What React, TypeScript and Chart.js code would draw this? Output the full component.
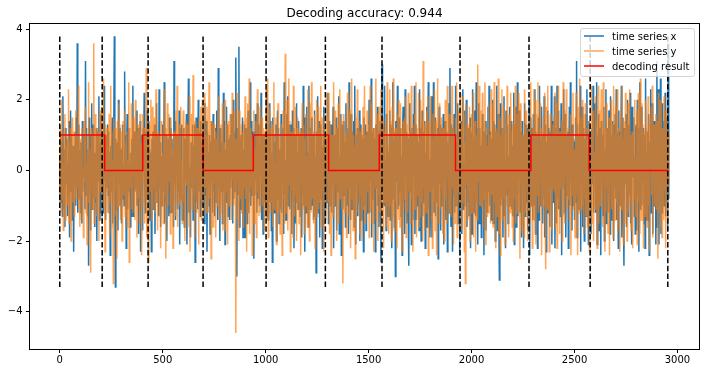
import { useEffect, useRef } from "react";
import { Chart, registerables } from "chart.js";

Chart.register(...registerables);

// ---- data ----
const STEP = 2.5; // time units between consecutive samples below
const TITLE = "Decoding accuracy: 0.944";
const legendLabels = ["time series x", "time series y", "decoding result"];

const seriesX = [
  0.4,-0.9,1.1,-0.2,0.8,-1.3,2.1,0.3,-1.1,0.6,-1.6,1.2,-0.4,0.9,-0.1,-1.3,0.2,-0.7,1.4,-1.9,
  0.5,1.7,-0.6,1.0,-1.4,0.1,0.7,-2.3,0.7,-0.3,1.1,-1.0,1.5,-0.5,3.6,-1.2,0.4,1.3,-0.8,0.6,
  -1.2,0.8,0.3,-1.5,1.4,-0.6,1.0,-0.2,0.9,-1.1,3.1,-0.7,1.2,0.1,-1.3,0.6,-2.7,1.5,-0.4,1.0,
  -1.7,0.7,1.9,-1.1,0.2,1.3,-0.8,0.5,-1.6,0.4,-0.9,1.2,-2.0,0.5,1.1,-0.3,2.1,-1.4,0.8,-1.2,
  1.6,-0.9,0.4,1.1,-1.2,0.6,2.4,-0.3,0.9,-1.4,1.0,-0.5,0.2,1.3,-0.7,1.1,-1.2,0.5,-2.4,0.7,
  -0.6,0.8,1.5,-1.5,0.3,1.4,3.8,-0.8,-3.3,0.9,-1.1,0.8,0.1,-1.7,2.0,-0.4,1.2,-1.0,0.6,-0.9,
  -1.5,0.6,1.3,-0.8,0.2,-1.0,2.8,-0.4,1.0,-2.2,0.7,1.6,-1.1,0.3,1.2,-0.6,0.2,-1.6,0.5,-1.3,
  0.9,-0.3,2.4,-1.3,0.4,1.1,-0.6,0.8,-0.5,1.7,-1.0,0.1,1.2,-1.8,0.6,-0.9,1.4,-2.3,1.0,-0.2,
  0.8,-1.7,1.2,0.3,2.2,-0.4,-1.2,1.1,-0.8,0.5,1.7,-0.8,0.2,1.4,-1.4,0.6,-0.1,0.5,-2.3,0.9,
  -0.2,1.1,-1.1,0.4,1.3,-1.8,0.7,-0.6,1.9,-0.9,0.3,1.0,-1.3,2.3,-0.5,0.8,-1.6,0.4,0.1,-1.0,
  1.3,-0.6,0.7,2.5,-1.5,0.2,-0.9,1.0,-2.0,0.9,-0.3,0.6,-1.3,1.5,0.1,-1.2,1.2,-0.7,0.9,-1.2,
  0.4,-1.6,3.1,-0.4,1.4,-1.4,0.8,0.2,1.0,-1.1,0.5,-0.6,1.7,-2.1,0.3,1.2,-0.8,1.3,-1.4,-0.7,
  -0.8,1.2,-1.6,0.4,0.9,-0.3,1.6,-2.1,0.4,1.2,2.6,-1.2,0.1,-0.7,-1.9,0.8,-0.5,0.6,1.3,-1.4,
  0.7,-0.2,1.3,-2.6,0.6,1.5,-0.9,0.3,-1.1,2.0,-0.6,1.1,0.2,-1.3,1.4,-0.4,0.8,-1.0,1.0,1.5,
  0.3,-1.5,1.9,-0.7,0.5,1.4,-2.3,1.1,-0.2,0.5,-1.0,1.0,-1.8,0.8,-0.3,1.4,0.1,-1.2,1.6,-0.6,
  0.9,-1.3,0.4,1.2,-0.9,1.7,-0.1,-1.4,2.9,-0.5,0.4,-2.0,1.2,0.2,-0.6,0.8,-1.5,0.7,2.2,-0.6,
  1.4,-2.1,0.6,-0.4,1.8,-0.9,1.3,-1.3,0.2,0.9,-1.4,1.0,-0.5,1.6,-0.2,0.7,-1.5,2.0,-0.8,0.4,
  1.1,-0.6,3.2,0.3,-3.0,1.2,-0.7,0.5,3.5,-1.6,0.9,-0.3,1.0,-1.1,0.4,1.5,-1.9,0.6,-0.4,1.3,
  -1.9,1.2,-0.4,1.2,-1.5,0.6,1.7,-1.2,0.3,-0.6,2.5,-1.0,-0.2,1.4,-0.7,0.8,1.1,-2.5,0.5,-0.7,
  1.6,-0.3,0.9,-1.2,1.9,-0.8,0.4,1.3,-1.0,0.7,-0.1,2.2,-1.4,0.6,1.0,-1.8,0.3,1.0,-0.9,0.5,
  0.9,-1.3,2.3,-0.6,1.1,-1.4,0.7,1.9,-0.9,0.2,1.4,-1.7,0.5,-2.6,1.5,-0.3,1.0,-1.2,0.8,-0.5,
  1.3,-2.0,0.4,1.7,-0.8,1.2,-1.5,0.6,0.0,-1.1,1.6,-1.2,0.9,-0.4,1.2,-1.8,2.5,-0.7,0.3,-1.4,
  -1.4,1.6,-0.2,2.1,-1.0,0.9,1.3,-1.1,1.3,-0.6,0.4,-1.8,1.7,-0.8,1.2,-2.2,0.6,1.0,-1.5,0.3,
  1.9,-0.9,0.5,-1.1,1.4,-0.3,1.0,-1.3,0.7,1.2,-1.9,0.2,-0.7,2.4,-1.0,0.8,-2.3,1.5,0.1,-1.2,
  1.8,-0.7,0.5,-1.6,2.4,-0.3,1.2,-1.1,0.8,1.5,0.2,-1.0,1.0,-1.4,0.9,1.7,-1.3,0.4,-2.9,1.1,
  -0.5,2.1,-1.2,0.6,1.4,-1.9,0.3,1.3,-0.8,1.0,-2.2,0.7,-0.2,1.8,-1.5,0.5,1.0,-1.1,0.9,-0.6,
  -0.9,2.2,-1.5,0.7,1.4,-1.0,0.3,1.3,-1.2,0.9,-0.4,1.8,-2.2,0.6,1.0,-1.0,0.1,1.5,-1.7,0.5,
  1.2,-0.6,2.1,-1.8,0.4,-0.2,1.6,-2.4,0.9,1.3,-1.1,0.2,1.4,-0.7,0.8,-1.6,1.9,-0.3,-1.0,1.0,
  1.2,-1.8,2.5,-0.5,0.8,-1.4,1.6,0.1,-1.1,1.1,-0.7,1.4,-1.6,2.4,0.3,-2.1,1.0,-0.2,1.2,-1.3,
  0.6,-0.9,1.7,-2.0,0.4,1.3,-1.4,1.0,-0.5,0.9,-2.3,1.5,0.2,-1.0,1.3,-1.7,0.7,1.1,-0.8,-1.2,
  0.6,2.0,-1.2,1.5,-0.3,2.6,-1.9,0.4,1.1,-0.8,1.2,-1.5,0.9,-2.3,1.3,-0.5,0.2,1.8,-1.0,1.1,
  -1.6,0.7,1.4,-0.4,-2.6,1.1,3.0,-0.6,1.3,-1.0,0.8,2.4,-1.0,0.3,-1.7,1.6,-0.2,1.0,-1.3,0.5,
  -0.5,1.7,-1.4,1.3,0.2,-2.2,1.2,2.5,-0.8,0.9,-1.6,1.1,-3.0,1.4,-0.3,0.6,2.4,-1.1,0.8,-1.0,
  1.5,-0.6,1.2,-1.3,0.4,-2.4,1.0,1.8,-0.9,0.3,-1.8,2.3,-0.2,1.1,-1.5,0.7,1.0,-1.2,-2.7,0.9,
  1.9,-0.6,1.1,-2.1,1.2,0.3,-1.4,1.6,-0.2,2.4,-1.8,0.7,1.3,-1.4,0.5,1.0,-1.0,0.8,-1.7,2.3,
  -0.8,1.2,-2.0,0.6,1.7,-1.3,0.2,1.1,-0.9,1.4,-2.2,0.5,-0.4,1.8,-1.6,0.9,2.5,-1.1,0.3,-1.9,
  -1.2,0.4,2.1,-1.9,1.0,-0.5,2.5,-1.2,0.9,1.5,-1.3,0.2,1.0,-0.9,1.2,-2.5,0.6,1.8,-0.4,1.3,
  -1.7,0.7,1.2,-1.0,0.3,1.6,-2.1,0.9,-0.3,1.4,-1.4,0.5,1.1,-2.3,0.8,-0.6,1.9,-1.2,2.9,-0.8,
  -1.6,1.3,0.5,-2.3,1.2,-0.7,1.6,-1.2,0.3,2.4,-1.0,0.8,-0.3,1.9,-1.5,0.6,1.1,-2.4,1.0,-0.1,
  1.4,-1.8,0.6,2.3,-1.1,0.2,-1.0,1.7,-0.5,1.1,2.0,-1.6,0.4,-0.9,1.2,-1.3,0.7,1.5,-2.2,0.3,
  1.1,-1.8,2.3,-0.4,0.9,-1.2,1.7,0.1,-1.3,2.5,-0.9,1.2,-2.1,0.6,1.9,-1.5,1.2,-0.2,0.7,-1.9,
  0.4,1.6,-1.0,1.1,-2.4,0.8,-0.3,1.4,-1.7,1.0,0.2,-1.2,1.8,-0.6,2.4,-1.0,0.5,1.1,-1.4,0.9,
  0.5,2.0,-1.5,1.4,-0.6,1.3,-2.0,1.1,-0.4,2.4,-1.7,0.8,1.6,-1.3,-3.1,0.2,1.9,-1.0,1.2,-0.8,
  1.2,-1.9,0.6,2.1,-1.3,0.3,-2.2,1.7,-0.7,1.0,1.3,-1.5,0.4,-0.1,1.8,-1.0,0.9,1.4,-1.1,0.5,
  -1.3,0.7,2.2,-2.1,1.3,-0.5,1.8,-1.6,0.4,2.5,-1.3,0.9,-0.2,1.7,-1.2,1.1,0.3,-1.9,1.4,-0.7,
  1.0,-2.2,0.5,1.9,-1.3,0.2,1.3,-0.9,1.2,-1.7,0.6,-0.3,2.0,-2.4,0.8,1.5,-1.0,0.4,1.2,-1.4,
  1.6,-1.0,0.3,2.3,-1.8,1.1,-0.3,1.0,-2.2,0.7,1.5,-1.4,2.4,-0.6,0.9,-1.0,1.8,0.2,-1.5,1.0,
  -0.8,2.1,-1.9,0.5,1.3,-2.3,0.8,-0.2,1.7,-1.2,1.2,0.0,-1.6,1.1,-0.5,2.4,-2.1,0.6,1.4,-0.9,
  -0.6,2.1,-2.2,1.2,0.5,-1.5,2.4,-0.8,1.7,-1.1,0.6,1.2,-1.3,0.1,1.9,-2.4,0.9,1.4,-0.5,2.3,
  -1.2,0.8,1.6,-1.9,0.3,1.0,-0.7,1.1,-2.2,0.5,1.8,-1.0,2.5,-0.3,0.7,-1.7,1.3,-1.0,0.9,0.2,
  -1.4,0.8,1.5,-0.9,3.1,-1.9,1.3,-0.4,1.0,-1.1,0.6,2.4,-2.3,1.0,-0.2,1.8,-1.6,0.4,1.2,-2.0,
  0.9,-0.5,1.6,-1.3,2.3,-0.7,0.2,-2.1,1.4,0.6,-1.0,1.1,-1.8,0.8,1.2,-0.4,2.4,-1.2,0.5,1.0,
  1.9,-1.2,0.5,2.5,-2.1,1.0,-0.6,1.6,-1.7,1.2,0.3,-2.4,1.4,-0.3,1.0,-1.3,0.7,1.8,-2.0,0.6,
  -0.9,2.3,-1.5,0.4,1.2,-1.2,0.8,1.7,-0.4,-1.8,2.1,-0.7,1.0,-1.4,1.4,0.2,-2.0,1.3,-0.5,1.6,
  -0.8,2.3,-1.4,1.1,0.4,-2.2,1.7,-0.5,1.1,-1.0,0.8,2.4,-1.9,0.2,1.5,-1.2,-2.7,1.2,-0.4,1.0,
  1.6,-1.6,0.5,2.0,-1.3,0.9,1.3,-0.7,2.2,-1.5,0.3,-2.1,1.8,-0.2,0.7,1.5,-1.3,0.4,-1.8,1.2,
  1.3,-1.7,2.0,-0.7,1.2,-2.3,0.6,2.5,-1.1,0.2,1.8,-1.0,0.9,-0.3,1.2,-1.5,1.0,-2.2,2.6,-0.6,
  0.5,-1.4,1.1,-0.9,1.6,-2.4,0.8,0.1,2.3,-1.2,-0.5,1.9,-1.8,0.7,1.4,-1.0,0.3,1.4,-2.1,0.9,
  3.1,-1.6,0.7,2.3,-2.1,1.1,-0.4,2.6,-1.8,0.9,-1.2,1.9,-0.6,1.4,-1.0,0.5,2.2,-1.3,0.8,-0.9,
  1.5,-1.7,3.6,-0.8,
];

const seriesY = [
  -0.6,1.3,-1.2,0.5,2.0,-0.8,0.2,-1.7,1.1,-0.3,1.6,-1.4,0.7,-0.1,1.0,-1.0,0.4,2.3,-1.5,0.8,
  -0.4,1.2,-2.0,0.6,1.5,-0.9,0.1,1.1,-1.3,0.9,-0.6,1.7,-0.8,0.3,1.0,-0.5,2.4,-1.1,0.2,-1.6,
  0.9,-1.4,0.5,1.2,-0.7,0.1,-1.9,1.4,-0.3,0.8,1.8,-1.2,0.2,-2.1,1.0,-0.5,2.5,-0.9,0.6,-1.6,
  -2.9,1.2,-0.4,0.7,-1.1,1.0,3.6,-1.5,0.3,1.6,-0.8,1.2,-1.3,0.4,-0.2,1.1,-2.0,0.9,1.7,-0.6,
  -0.4,1.8,-1.5,0.7,0.2,2.6,-1.0,0.4,-2.3,1.3,-0.6,1.0,1.2,-1.2,0.5,-0.2,1.6,-1.9,0.8,2.4,
  -0.9,1.1,-1.6,0.3,-3.2,1.5,0.6,-1.3,1.2,-0.5,0.9,-2.5,1.4,0.0,-1.0,1.9,-0.7,1.3,-1.4,0.6,
  1.1,-2.0,0.5,1.4,-0.7,0.2,1.7,-1.3,0.8,-0.4,1.1,-1.6,0.3,-0.9,2.5,-2.6,0.6,1.2,-0.5,1.9,
  -1.1,0.4,-1.2,1.5,0.0,0.9,-1.4,2.0,-0.6,1.1,-1.9,0.7,1.3,-0.8,0.2,-1.5,1.6,-0.3,0.8,-2.4,
  -1.0,1.6,-0.3,0.9,1.2,-1.5,0.4,-0.8,2.9,-1.9,0.7,1.2,-2.6,0.3,1.3,-0.6,0.1,2.0,-1.4,0.5,
  1.8,-1.1,0.9,-0.5,1.5,-1.2,0.2,2.3,-0.9,0.6,-1.7,1.1,-0.2,1.0,-1.3,0.8,-2.2,1.4,0.3,-1.0,
  0.5,-1.5,1.0,2.3,-0.7,1.2,-2.5,0.4,-0.2,1.9,-1.0,0.8,1.6,-0.3,0.9,-1.8,1.5,0.2,-1.1,0.6,
  -2.2,1.1,-0.6,1.1,0.0,-1.3,1.7,-0.8,2.4,-1.6,0.7,-0.4,1.3,-1.0,0.5,1.8,-0.9,0.3,-1.5,1.0,
  1.7,-0.9,0.6,-2.0,1.2,1.4,-0.4,0.3,1.3,-1.6,0.8,-0.1,2.1,-2.3,0.3,1.0,1.6,-1.1,0.4,2.7,
  -0.7,0.2,-1.9,1.4,-0.2,0.9,-1.2,1.2,-0.5,0.6,-2.1,1.5,0.1,-0.8,1.8,-1.4,0.5,2.0,-1.0,-0.2,
  -1.3,2.2,-0.5,0.6,1.0,-1.2,1.8,0.3,-0.7,-1.2,2.5,-0.8,0.7,1.4,-2.5,0.4,1.4,0.0,-1.6,0.9,
  1.3,-0.4,1.1,-1.9,0.2,0.9,-1.0,1.7,-0.3,2.1,-1.4,0.5,-1.2,1.3,0.6,-0.9,1.9,-1.7,0.8,-0.1,
  0.8,-1.7,2.0,-0.6,0.3,1.3,-2.1,0.5,1.4,-1.0,0.2,1.6,-0.8,0.9,-1.4,2.2,-0.3,1.0,-1.0,1.7,
  -0.8,0.4,-4.6,0.9,-1.4,2.2,-0.3,1.1,-2.0,1.7,-0.8,0.5,1.3,-1.2,1.1,0.0,-1.6,0.8,1.4,-0.5,
  2.1,-0.8,1.5,-2.3,0.4,1.9,-1.2,0.7,2.6,-1.8,0.3,1.2,-0.5,1.0,-2.4,0.9,-0.1,1.7,-1.5,0.6,
  -0.9,1.4,-1.9,0.2,2.3,-0.6,1.0,-1.3,0.5,1.8,-1.2,0.8,-0.4,1.5,-1.0,1.2,0.1,-1.7,1.1,-0.3,
  -0.7,2.3,-1.4,0.6,2.6,-1.9,1.1,-0.2,1.8,-1.2,0.4,1.2,-0.9,1.3,-1.6,0.7,2.5,-1.1,0.2,-0.6,
  1.5,-2.1,0.8,-0.3,1.9,-1.2,0.5,1.0,-1.8,0.9,-0.5,1.3,-2.4,0.6,1.7,-0.8,0.2,-1.5,3.3,-0.4,
  -1.2,0.8,2.0,-1.7,0.5,2.6,-0.4,1.4,-2.3,0.9,1.1,-0.6,1.0,-1.9,2.4,0.3,-1.3,1.8,-0.7,1.2,
  -2.0,0.6,1.5,-0.9,1.2,-1.5,0.2,1.1,-2.4,0.8,-0.1,1.9,-1.1,0.5,1.3,-1.8,0.9,-0.4,1.6,-1.0,
  0.4,-1.6,2.3,-0.5,1.1,-2.0,1.9,0.2,-1.2,2.5,-0.8,0.6,1.1,-1.5,0.0,1.6,-2.2,0.9,-0.3,2.0,
  -1.3,0.7,1.8,-1.1,0.4,1.2,-0.9,2.4,-1.6,0.3,1.5,-0.6,1.0,-2.3,0.8,-0.2,1.3,-1.4,2.2,0.1,
  1.5,-0.9,0.7,2.2,-1.8,0.4,1.3,-2.4,1.0,-0.6,1.0,-1.3,2.5,0.3,-1.0,1.7,-0.4,1.2,-2.0,0.6,
  -0.3,1.9,-1.5,0.8,2.3,-0.8,0.1,1.4,-1.1,0.9,-3.2,1.6,-0.5,1.0,-1.2,0.5,1.1,-1.9,0.3,2.2,
  -0.5,2.2,-1.3,0.9,1.7,-2.2,0.2,2.6,-0.8,1.1,-1.7,1.0,-0.2,0.7,-2.5,1.5,0.5,-1.2,2.3,-0.9,
  1.4,-0.4,0.9,-1.8,1.1,-0.7,1.2,-2.0,0.3,1.8,-1.1,0.6,2.4,-1.5,0.0,1.0,-1.2,1.7,-0.6,0.8,
  1.3,-1.9,0.5,2.4,-1.1,0.8,1.9,-1.5,0.2,1.2,-2.3,0.7,1.2,-0.5,2.6,-1.4,0.3,1.6,-2.0,0.9,
  -0.7,1.8,-1.2,0.4,2.3,-1.7,1.0,-0.3,1.5,-2.2,0.6,1.1,-0.9,1.3,-1.6,0.2,2.5,-1.0,0.7,-1.8,
  -0.6,2.3,-1.0,1.4,-2.0,0.5,1.8,-1.3,2.6,0.1,-1.7,1.0,1.2,-0.9,0.4,-2.2,1.6,-0.3,2.0,-1.4,
  0.8,-1.6,1.9,-0.5,1.2,-2.3,0.6,1.4,-1.1,0.3,1.5,-0.8,2.1,-1.9,0.0,1.3,-1.2,2.2,-0.6,1.0,
  1.1,-1.5,0.7,2.4,-0.8,1.3,-2.3,0.4,1.0,-1.1,1.6,-0.2,2.5,-1.9,0.6,1.2,-0.7,2.2,-1.6,0.9,
  -1.3,2.0,0.3,-0.9,1.5,-2.0,3.1,-0.5,1.0,-1.7,1.3,0.2,-1.2,1.7,-0.4,2.1,-2.4,0.8,1.4,-0.6,
  0.3,2.1,-1.4,0.9,-2.2,1.6,0.5,-0.9,2.3,-1.7,0.8,1.4,-2.4,0.2,2.6,-1.0,1.0,-1.5,1.9,0.6,
  -1.1,1.5,-0.5,1.2,-1.8,0.7,1.2,-2.0,0.4,2.0,-0.8,1.3,-1.5,2.4,-0.2,0.9,-1.2,1.6,0.1,-1.3,
  -1.2,0.7,2.4,-0.5,1.2,-2.1,0.4,1.0,-1.5,1.5,-0.3,2.5,-1.9,0.9,-0.6,1.7,0.2,-1.0,2.2,-0.6,
  1.3,-1.7,0.5,2.1,-0.9,1.6,-2.3,0.8,-3.2,1.9,-0.4,1.0,1.3,-1.4,0.3,-0.8,1.8,-2.0,0.6,1.2,
  1.6,-1.2,0.3,2.2,-1.9,0.8,-0.7,1.4,-2.3,0.5,1.0,-1.4,3.0,-0.3,1.1,2.4,-1.0,0.6,1.7,-1.0,
  -0.5,2.2,-1.6,0.9,1.4,-0.8,2.5,-2.1,0.3,1.2,-1.3,0.7,-0.2,1.9,-1.2,1.0,0.4,-1.5,2.3,-0.7,
  -0.4,1.9,-1.6,0.7,2.5,-0.9,1.2,-2.2,0.4,1.1,-1.3,0.9,2.6,-1.8,0.1,1.5,-2.4,1.0,-0.6,2.3,
  -1.4,0.6,1.8,-0.8,1.0,-2.1,0.3,1.3,-1.0,2.4,-0.5,0.8,-1.9,1.6,0.0,-1.2,2.2,-0.7,1.1,-1.6,
  1.3,-2.0,0.6,1.8,-0.8,2.4,-1.5,0.2,1.6,-1.2,0.9,2.2,-1.1,0.5,-2.5,1.9,-0.4,1.2,-1.7,1.0,
  -0.6,1.0,-1.9,2.3,0.1,-1.2,1.7,-0.3,0.9,-2.0,1.1,-0.8,1.4,-1.5,0.4,2.5,-1.0,0.6,-2.2,1.2,
  -0.9,2.3,-1.4,0.8,2.0,-2.1,0.4,1.6,-0.7,2.5,-1.2,0.6,-1.0,1.9,-0.3,1.2,-2.4,1.1,0.5,-1.0,
  1.5,-0.6,2.2,-1.3,-2.8,1.8,0.2,-1.1,2.4,-0.4,1.0,-2.3,0.7,1.6,-0.9,1.0,-1.7,0.3,1.3,-0.5,
  1.5,-0.6,2.2,-1.6,0.7,1.9,-2.2,0.3,2.4,-1.0,1.1,-1.8,0.6,1.1,-0.5,1.4,-2.0,0.8,2.5,-1.3,
  0.4,-1.5,1.7,-0.2,2.3,-1.1,0.9,1.2,-0.8,1.0,-1.4,0.5,1.6,-2.4,0.1,1.0,-0.7,2.2,-1.1,0.6,
  0.2,-1.9,1.3,2.2,-0.7,1.0,-2.4,1.8,0.4,-1.2,2.6,-0.5,1.5,-1.1,0.8,2.0,-1.0,0.3,-1.8,1.6,
  -0.8,1.9,-1.3,0.6,1.2,-1.6,0.9,-0.2,1.4,-2.3,0.7,1.1,-0.9,2.4,-1.5,0.3,1.7,-2.0,0.5,-0.6,
  -1.1,2.1,-0.4,1.4,-2.2,0.9,2.4,-1.5,0.6,1.7,-1.0,1.0,2.3,-0.8,0.3,-1.6,2.5,-0.2,1.2,-2.3,
  0.7,-1.2,1.9,-0.5,1.2,-1.8,0.4,1.5,-2.4,0.9,-0.3,2.0,-1.1,0.6,1.3,-1.9,2.4,-0.7,1.0,-1.4,
  1.8,-0.9,0.5,2.3,-1.7,1.2,-0.2,1.0,-2.3,0.7,1.6,-1.1,2.4,-0.6,0.9,-2.1,1.4,0.3,-1.5,2.2,
  -0.4,1.3,-2.0,0.8,1.9,-1.2,0.5,2.3,-0.9,1.0,-1.7,0.2,1.1,-2.2,0.6,1.5,-0.8,2.0,-1.3,0.4,
  -0.3,1.7,-2.1,0.8,2.2,-0.9,1.3,-1.8,2.6,0.1,-1.4,1.9,-0.6,1.3,-2.2,0.5,1.1,-1.3,2.0,-0.8,
  1.2,-1.6,0.4,2.1,-1.0,0.7,-2.3,1.5,0.2,1.8,-0.7,2.4,-1.9,0.6,-0.2,1.3,-1.0,0.9,1.6,-1.1,
  1.4,-0.7,-2.5,2.2,-1.2,1.5,-0.5,2.0,-1.6,0.8,-1.9,1.2,0.3,-1.4,2.1,-0.6,1.0,-2.2,1.7,-0.3,
  0.6,-1.5,1.1,-0.4,
];

const changePoints = [0, 206, 429, 696, 1002, 1290, 1565, 1944, 2279, 2576, 2953];
const decodeStarts = [0, 218, 403, 696, 940, 1306, 1552, 1922, 2288, 2571];
const decodeStates = [1, 0, 1, 0, 1, 0, 1, 0, 1, 0];

const xTicks = [0, 500, 1000, 1500, 2000, 2500, 3000];
const yTicks = [-4, -2, 0, 2, 4];
const xRange = [-147, 3107];
const yRange = [-5.07, 4.16];

// ---- styles ----
const BLUE = "#1f77b4";
const ORANGE = "rgba(255,127,14,0.7)";
const RED = "#ff0000";
const FONT = '"DejaVu Sans", sans-serif';

const framePlugin = {
  id: "frame",
  afterDraw(chart: any) {
    const { ctx, chartArea: a } = chart;
    ctx.save();
    ctx.strokeStyle = "#000";
    ctx.lineWidth = 1;
    ctx.strokeRect(a.left, a.top, a.right - a.left, a.bottom - a.top);
    ctx.fillStyle = "#000";
    ctx.font = `12px ${FONT}`;
    ctx.textAlign = "center";
    ctx.textBaseline = "alphabetic";
    ctx.fillText(TITLE, (a.left + a.right) / 2, 16.5);
    ctx.restore();
  },
};

const legendPlugin = {
  id: "mplLegend",
  afterDraw(chart: any) {
    const { ctx } = chart;
    const colors = [BLUE, ORANGE, RED];
    const x0 = 580.5, y0 = 28.5, w = 114, h = 48, r = 2.5;
    ctx.save();
    ctx.beginPath();
    ctx.moveTo(x0 + r, y0);
    ctx.lineTo(x0 + w - r, y0);
    ctx.arcTo(x0 + w, y0, x0 + w, y0 + r, r);
    ctx.lineTo(x0 + w, y0 + h - r);
    ctx.arcTo(x0 + w, y0 + h, x0 + w - r, y0 + h, r);
    ctx.lineTo(x0 + r, y0 + h);
    ctx.arcTo(x0, y0 + h, x0, y0 + h - r, r);
    ctx.lineTo(x0, y0 + r);
    ctx.arcTo(x0, y0, x0 + r, y0, r);
    ctx.closePath();
    ctx.fillStyle = "rgba(255,255,255,0.8)";
    ctx.fill();
    ctx.strokeStyle = "rgba(204,204,204,0.8)";
    ctx.lineWidth = 1;
    ctx.stroke();
    ctx.font = `10px ${FONT}`;
    ctx.textAlign = "left";
    ctx.textBaseline = "alphabetic";
    legendLabels.forEach((label, i) => {
      const base = 39.5 + i * 15;
      ctx.beginPath();
      ctx.strokeStyle = colors[i];
      ctx.lineWidth = 1.5;
      ctx.moveTo(584, base - 3.5);
      ctx.lineTo(604, base - 3.5);
      ctx.stroke();
      ctx.fillStyle = "#000";
      ctx.fillText(label, 612, base);
    });
    ctx.restore();
  },
};

export default function App() {
  const ref = useRef<HTMLCanvasElement | null>(null);

  useEffect(() => {
    document.body.style.margin = "0";
    const xPts = seriesX.map((v, i) => ({ x: i * STEP, y: v }));
    const yPts = seriesY.map((v, i) => ({ x: i * STEP, y: v }));
    const decodeEnd = (seriesX.length - 1) * STEP;
    const decPts: { x: number; y: number }[] = [];
    decodeStarts.forEach((s, i) => {
      const e = i + 1 < decodeStarts.length ? decodeStarts[i + 1] : decodeEnd;
      decPts.push({ x: s, y: decodeStates[i] });
      decPts.push({ x: e, y: decodeStates[i] });
    });
    const vMin = Math.min(...seriesX);
    const vMax = Math.max(...seriesX);
    const vPts: { x: number; y: number | null }[] = [];
    changePoints.forEach((c) => {
      vPts.push({ x: c, y: vMin });
      vPts.push({ x: c, y: vMax });
      vPts.push({ x: c, y: null });
    });

    const common = { pointRadius: 0, pointHoverRadius: 0, tension: 0, fill: false, borderWidth: 1.5 };
    const chart = new Chart(ref.current as HTMLCanvasElement, {
      type: "line",
      data: {
        datasets: [
          { ...common, label: "dash", data: vPts as any, borderColor: "#000", borderDash: [5.5, 2.4], spanGaps: false, order: 0 },
          { ...common, label: legendLabels[2], data: decPts, borderColor: RED, order: 1 },
          { ...common, label: legendLabels[1], data: yPts, borderColor: ORANGE, order: 2 },
          { ...common, label: legendLabels[0], data: xPts, borderColor: BLUE, order: 3 },
        ],
      },
      options: {
        animation: false,
        responsive: false,
        devicePixelRatio: 1,
        events: [],
        layout: { padding: { top: 23.5, right: 5.5, left: 0, bottom: 0 } },
        plugins: { legend: { display: false }, title: { display: false }, tooltip: { enabled: false } },
        scales: {
          x: {
            type: "linear",
            min: xRange[0],
            max: xRange[1],
            afterBuildTicks: (s: any) => { s.ticks = xTicks.map((v) => ({ value: v })); },
            afterFit: (s: any) => { s.height = 23.5; },
            grid: { display: true, drawOnChartArea: false, drawTicks: true, tickLength: 3.5, color: "#000", lineWidth: 1 },
            border: { display: false },
            ticks: { autoSkip: false, maxRotation: 0, padding: 1.5, color: "#000", font: { family: FONT, size: 10 }, callback: (v: any) => String(v) },
          },
          y: {
            type: "linear",
            min: yRange[0],
            max: yRange[1],
            afterBuildTicks: (s: any) => { s.ticks = yTicks.map((v) => ({ value: v })); },
            afterFit: (s: any) => { s.width = 29.5; },
            grid: { display: true, drawOnChartArea: false, drawTicks: true, tickLength: 3.5, color: "#000", lineWidth: 1 },
            border: { display: false },
            ticks: { autoSkip: false, padding: 3.5, color: "#000", font: { family: FONT, size: 10 }, callback: (v: any) => (v < 0 ? "\u2212" + Math.abs(v) : String(v)) },
          },
        },
      },
      plugins: [framePlugin, legendPlugin],
    } as any);
    return () => chart.destroy();
  }, []);

  return <canvas ref={ref} width={705} height={373} style={{ display: "block" }} />;
}
